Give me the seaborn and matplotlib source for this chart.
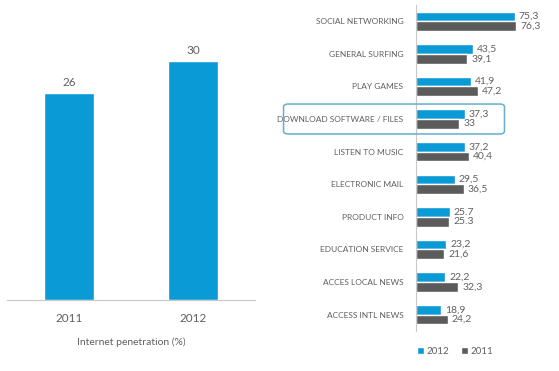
import pandas as pd
import matplotlib.pyplot as plt
import seaborn as sns
from matplotlib.patches import FancyBboxPatch

# --- data -------------------------------------------------------------------
pen_years = ["2011", "2012"]
pen_values = [26, 30]

activities = ["SOCIAL NETWORKING", "GENERAL SURFING", "PLAY GAMES",
              "DOWNLOAD SOFTWARE / FILES", "LISTEN TO MUSIC", "ELECTRONIC MAIL",
              "PRODUCT INFO", "EDUCATION SERVICE", "ACCES LOCAL NEWS",
              "ACCESS INTL NEWS"]
vals_2012 = [75.3, 43.5, 41.9, 37.3, 37.2, 29.5, 25.7, 23.2, 22.2, 18.9]
vals_2011 = [76.3, 39.1, 47.2, 33.0, 40.4, 36.5, 25.3, 21.6, 32.3, 24.2]
labels_2012 = ["75,3", "43,5", "41,9", "37,3", "37,2", "29,5", "25.7", "23,2", "22,2", "18,9"]
labels_2011 = ["76,3", "39,1", "47,2", "33", "40,4", "36,5", "25.3", "21,6", "32,3", "24,2"]

BLUE = "#0a9ad6"
GRAY = "#5b5b5b"
TXT = "#606060"

sns.set_style("white")
plt.rcParams["font.family"] = ["Lato", "DejaVu Sans"]

fig = plt.figure(figsize=(5.59, 3.71), dpi=100)

# --- left: internet penetration ----------------------------------------------
ax1 = fig.add_axes([7 / 559, 71 / 371, 248 / 559, 300 / 371])
sns.barplot(x=pen_years, y=pen_values, color=BLUE, width=0.4, saturation=1, ax=ax1)
ax1.bar_label(ax1.containers[0], labels=[str(v) for v in pen_values],
              padding=4, fontsize=8.5, color=TXT)
ax1.set_ylim(0, 37.7)
ax1.set_xlim(-0.5, 1.5)
ax1.set_yticks([])
for s in ["top", "right", "left"]:
    ax1.spines[s].set_visible(False)
ax1.spines["bottom"].set_color("#c8c8c8")
ax1.tick_params(axis="x", length=0, labelsize=8.5, labelcolor=TXT, pad=9)
ax1.set_xticks([-0.5, 0.5, 1.5], minor=True)
ax1.tick_params(axis="x", which="minor", length=4, color="#c8c8c8")
ax1.set_xlabel("Internet penetration (%)", fontsize=7.5, color=TXT, labelpad=10)
ax1.set_ylabel("")

# --- right: online activities -------------------------------------------------
df = pd.DataFrame({
    "activity": activities * 2,
    "value": vals_2012 + vals_2011,
    "year": ["2012"] * len(activities) + ["2011"] * len(activities),
})
ax2 = fig.add_axes([416 / 559, 40 / 371, 131 / 559, 326 / 371])
sns.barplot(data=df, y="activity", x="value", hue="year", hue_order=["2012", "2011"],
            palette=[BLUE, GRAY], orient="h", width=0.6, saturation=1, ax=ax2)
ax2.bar_label(ax2.containers[0], labels=labels_2012, padding=3, fontsize=7.5, color=TXT)
ax2.bar_label(ax2.containers[1], labels=labels_2011, padding=3, fontsize=7.5, color=TXT)
ax2.set_xlim(0, 100)
ax2.set_ylim(9.5, -0.5)
ax2.set_xticks([])
ax2.set_xlabel("")
ax2.set_ylabel("")
for s in ["top", "right", "bottom"]:
    ax2.spines[s].set_visible(False)
ax2.spines["left"].set_color("#c8c8c8")
ax2.tick_params(axis="y", length=0, labelsize=6, labelcolor=TXT, pad=9)
ax2.set_yticks([i - 0.5 for i in range(11)], minor=True)
ax2.tick_params(axis="y", which="minor", length=3, color="#c8c8c8")

ax2.legend(loc="center", bbox_to_anchor=(455 / 559, 20 / 371),
           bbox_transform=fig.transFigure, ncol=2, frameon=False,
           fontsize=7, handlelength=0.7, handleheight=0.7, handletextpad=0.3,
           columnspacing=1.2, labelcolor=TXT)

# highlight box round "DOWNLOAD SOFTWARE / FILES"
box = FancyBboxPatch((288 / 559, 240 / 371), 212 / 559, 24 / 371,
                     boxstyle="round,pad=0.008", transform=fig.transFigure,
                     fill=False, edgecolor="#62afcf", linewidth=1.1)
fig.patches.append(box)

fig.savefig("out.png", dpi=100)
